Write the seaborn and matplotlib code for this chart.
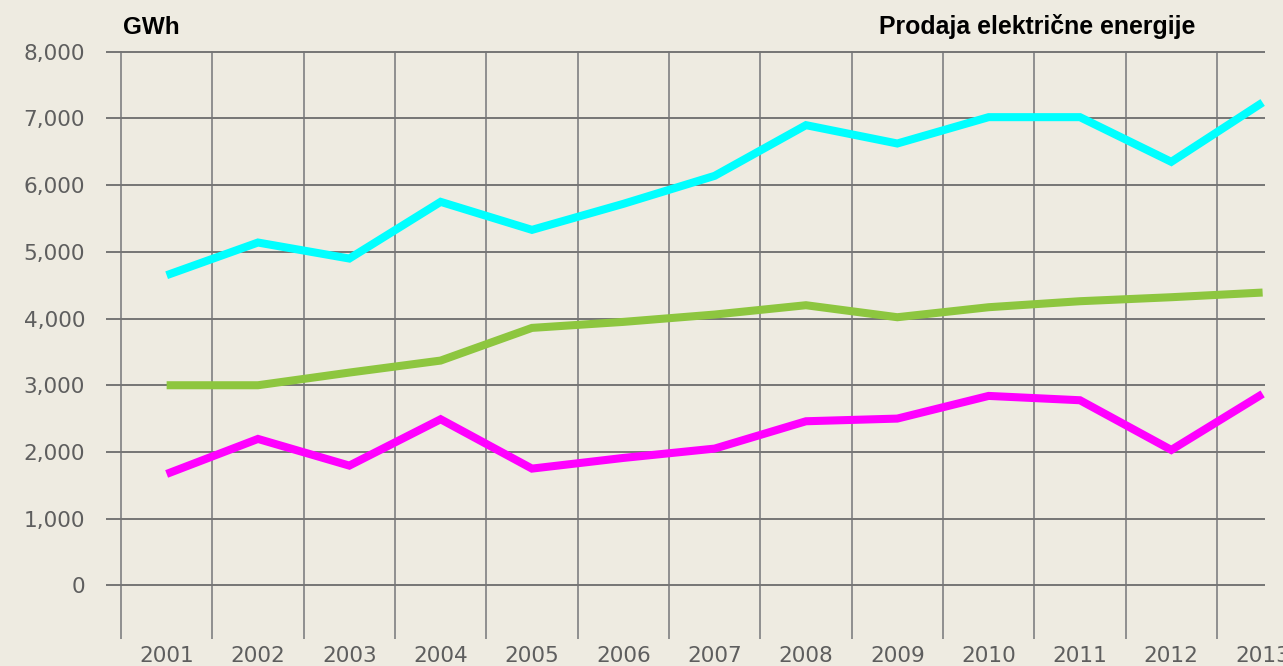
import pandas as pd
import matplotlib
matplotlib.use('Agg')
import matplotlib.pyplot as plt
import seaborn as sns
from matplotlib.ticker import FixedLocator, FuncFormatter

# Data (GWh)
years = list(range(2001, 2014))
cyan_vals = [4650, 5140, 4900, 5750, 5330, 5720, 6140, 6900, 6625, 7020, 7020, 6350, 7240]
green_vals = [3000, 3000, 3190, 3370, 3860, 3950, 4060, 4200, 4020, 4170, 4260, 4320, 4390]
magenta_vals = [1670, 2195, 1795, 2490, 1750, 1910, 2050, 2460, 2500, 2840, 2775, 2030, 2870]
y_ticks = [0, 1000, 2000, 3000, 4000, 5000, 6000, 7000, 8000]

series = ['s1', 's2', 's3']
colors = {'s1': '#00ffff', 's2': '#8dc63f', 's3': '#ff00ff'}

df = pd.DataFrame({
    'year': years * 3,
    'gwh': cyan_vals + green_vals + magenta_vals,
    'serija': [s for s in series for _ in years],
})

sns.set_style('white')
plt.rcParams['font.family'] = ['DejaVu Sans']

bg = '#eeebe1'
fig = plt.figure(figsize=(12.83, 6.66), dpi=100, facecolor=bg)
ax = fig.add_axes([106 / 1283, 1 - 639 / 666, (1265 - 106) / 1283, (639 - 51) / 666])
ax.set_facecolor(bg)

sns.lineplot(data=df, x='year', y='gwh', hue='serija', palette=colors,
             linewidth=5.8, legend=False, ax=ax, zorder=3)
for line in ax.get_lines():
    line.set_solid_capstyle('butt')
    line.set_solid_joinstyle('miter')

ax.set_xlim(2000.336, 2013.026)
ax.set_ylim(-805, 8012)

# horizontal grid only at the labelled values
ax.yaxis.set_major_locator(FixedLocator(y_ticks))
ax.yaxis.set_major_formatter(FuncFormatter(lambda v, p: f'{int(v):,}'))
for v in y_ticks:
    ax.axhline(v, color='#757575', lw=1.4, zorder=1)

# vertical grid between years, labels centred in each cell
ax.xaxis.set_major_locator(FixedLocator(years))
ax.xaxis.set_major_formatter(FuncFormatter(lambda v, p: f'{int(v)}'))
ax.xaxis.set_minor_locator(FixedLocator([y - 0.5 for y in years]))
ax.grid(False)
ax.grid(True, which='minor', axis='x', color='#8f8f8f', lw=1.4, zorder=1)

ax.tick_params(axis='both', which='both', length=0, labelsize=15.6, labelcolor='#5e5e5e')
ax.tick_params(axis='y', pad=15)
ax.tick_params(axis='x', pad=5)
ax.set_xlabel('')
ax.set_ylabel('')
for sp in ax.spines.values():
    sp.set_visible(False)

fig.text(123 / 1283, 1 - 34 / 666, 'GWh', fontsize=17.5, fontweight='bold',
         family='Liberation Sans', va='baseline', ha='left', color='black')
fig.text(879 / 1283, 1 - 34 / 666, 'Prodaja električne energije', fontsize=17.9,
         fontweight='bold', family='Liberation Sans', va='baseline', ha='left', color='black')

fig.savefig('out.png', dpi=100, facecolor=bg)
